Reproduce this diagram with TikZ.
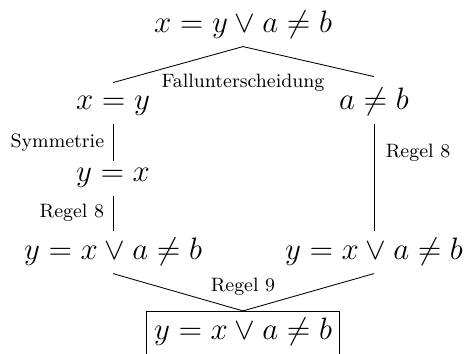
\documentclass[tikz,border=0pt]{standalone}
\usepackage{amsmath,amssymb}
\usepackage{tikz}
\usetikzlibrary{positioning}

\begin{document}
\begin{tikzpicture}[
  fml/.style={font=\Large, anchor=base},
  regel/.style={font=\small}]
  \useasboundingbox (-3.972,-5.24) rectangle (3.662,0.539);
  % Ausgangsformel
  \node[fml] (top) at (0,0) {$x = y \lor a \neq b$};
  % Fallunterscheidung
  \node[fml] (xeqy)  at (-2.125,-1.259) {$x = y$};
  \node[fml] (aneqb) at (2.141,-1.259)  {$a \neq b$};
  \draw (top.south) -- ([yshift=3pt]xeqy.north);
  \draw (top.south) -- ([yshift=2pt]aneqb.north);
  \node[regel, anchor=base] (fall) at (0,-0.899) {Fallunterscheidung};
  % linker Zweig
  \node[fml] (yeqx) at (-2.125,-2.436) {$y = x$};
  \draw (xeqy.south) -- node[regel, left=0.6pt] (symm) {Symmetrie} (yeqx.north);
  \node[fml] (leftres) at (-2.125,-3.711) {$y = x \lor a \neq b$};
  \draw (yeqx.south) -- node[regel, left=0.6pt] (rlinks) {Regel 8} (leftres.north);
  % rechter Zweig
  \node[fml] (rightres) at (2.141,-3.711) {$y = x \lor a \neq b$};
  \draw (aneqb.south) -- node[regel, right=2pt, pos=.27] (rrechts) {Regel 8} (rightres.north);
  % Zusammenfuehrung
  \node[fml, draw, text depth=6pt] (result) at (0,-5.019) {$y = x \lor a \neq b$};
  \draw (leftres.south) -- (result.north);
  \draw (rightres.south) -- (result.north);
  \node[regel, anchor=base] (rneun) at (0,-4.234) {Regel 9};
\end{tikzpicture}
\end{document}
